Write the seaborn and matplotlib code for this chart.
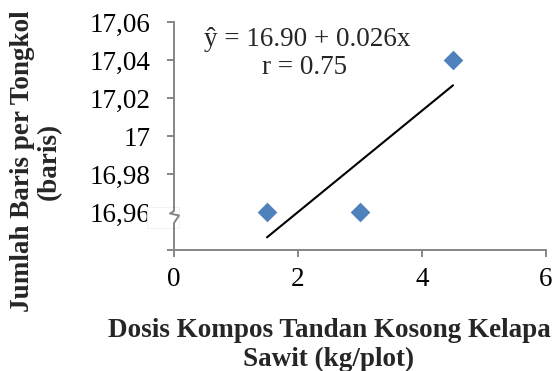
import numpy as np
import pandas as pd
import matplotlib
matplotlib.use("Agg")
import matplotlib.pyplot as plt
import seaborn as sns
from matplotlib.patches import Rectangle
from matplotlib.lines import Line2D

# Data
dosis = [1.5, 3.0, 4.5]
baris = [16.96, 16.96, 17.04]

x_ticks = [0, 2, 4, 6]
x_tick_labels = ["0", "2", "4", "6"]
y_ticks = [16.94, 16.96, 16.98, 17.00, 17.02, 17.04, 17.06]
y_tick_labels = ["", "16,96", "16,98", "17", "17,02", "17,04", "17,06"]

persamaan = "ŷ = 16.90 + 0.026x"
korelasi = "r = 0.75"
label_x = "Dosis Kompos Tandan Kosong Kelapa\nSawit (kg/plot)"
label_y = "Jumlah Baris per Tongkol\n(baris)"

sns.set_theme(style="white")
plt.rcParams["font.family"] = ["Liberation Serif", "DejaVu Serif"]

W, H = 552, 371
df = pd.DataFrame({"dosis": dosis, "baris": baris})

fig = plt.figure(figsize=(W / 100, H / 100), dpi=100)
x0, x1, y0, y1 = 174, 546, 22, 250
ax = fig.add_axes([x0 / W, 1 - y1 / H, (x1 - x0) / W, (y1 - y0) / H])

axis_col = "#868686"
fs = 19.5

sns.regplot(data=df, x="dosis", y="baris", ax=ax, scatter=False, ci=None,
            truncate=True, line_kws=dict(color="black", lw=1.5, zorder=2))
sns.scatterplot(data=df, x="dosis", y="baris", ax=ax, marker="D", s=100,
                color="#4F81BD", linewidth=0, zorder=3)

ax.set_xlim(0, 6)
ax.set_ylim(16.94, 17.06)
ax.set_xticks(x_ticks)
ax.set_xticklabels(x_tick_labels)
ax.set_yticks(y_ticks)
ax.set_yticklabels(y_tick_labels)
ax.set_xlabel("")
ax.set_ylabel("")

for side in ("top", "right"):
    ax.spines[side].set_visible(False)
for side in ("left", "bottom"):
    ax.spines[side].set_color(axis_col)
    ax.spines[side].set_linewidth(1.4)

ax.tick_params(axis="both", which="major", bottom=True, left=True,
               direction="out", length=5, width=1.4, color=axis_col,
               labelsize=fs, labelcolor="black")
ax.tick_params(axis="y", pad=12)
ax.tick_params(axis="x", pad=7)


def px(x, y):
    """Convert pixel position (from top-left) to axes fraction."""
    return (x - x0) / (x1 - x0), (y1 - y) / (y1 - y0)


# Axis break marker on the y axis
bx, by = px(147, 228)
bx2, by2 = px(179, 207)
ax.add_patch(Rectangle((bx, by), bx2 - bx, by2 - by, transform=ax.transAxes,
                       facecolor="white", edgecolor="#f0f0f0", lw=0.6,
                       clip_on=False, zorder=5))
zz = [px(174, 207), px(174, 211), px(170, 213.5), px(179, 215.5),
      px(174, 223), px(174, 229)]
ax.add_line(Line2D([p[0] for p in zz], [p[1] for p in zz],
                   transform=ax.transAxes, color=axis_col, lw=1.4,
                   clip_on=False, zorder=6))

# Regression annotation
tx, ty = px(307, 40)
ax.text(tx, ty, persamaan, transform=ax.transAxes, ha="center", va="center",
        fontsize=fs)
tx, ty = px(305, 68)
ax.text(tx, ty, korelasi, transform=ax.transAxes, ha="center", va="center",
        fontsize=fs)

# Axis titles
fig.text(329 / W, 1 - 345 / H, label_x, ha="center", va="center",
         fontsize=fs, fontweight="bold", linespacing=1.15)
fig.text(36 / W, 1 - 161 / H, label_y, ha="center", va="center",
         rotation=90, fontsize=fs, fontweight="bold", linespacing=1.08)

fig.savefig("out.png", dpi=100, facecolor="white")
